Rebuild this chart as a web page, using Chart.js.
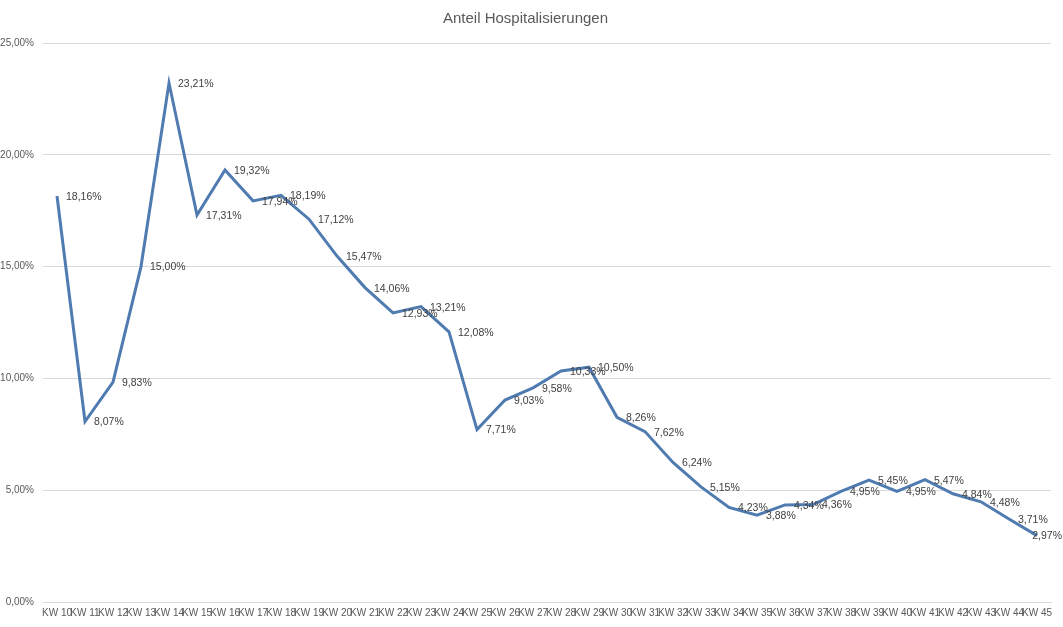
<!DOCTYPE html>
<html>
<head>
<meta charset="utf-8">
<script src="https://cdn.jsdelivr.net/npm/chart.js@4"></script>
<style>
  html, body { margin: 0; padding: 0; background: #fff; }
  #wrap { width: 1063px; height: 627px; }
</style>
</head>
<body>
<div id="wrap"><canvas id="hospChart" width="1063" height="627"></canvas></div>
<script>
const weeks = ['KW 10', 'KW 11', 'KW 12', 'KW 13', 'KW 14', 'KW 15', 'KW 16', 'KW 17', 'KW 18',
    'KW 19', 'KW 20', 'KW 21', 'KW 22', 'KW 23', 'KW 24', 'KW 25', 'KW 26', 'KW 27', 'KW 28',
    'KW 29', 'KW 30', 'KW 31', 'KW 32', 'KW 33', 'KW 34', 'KW 35', 'KW 36', 'KW 37', 'KW 38',
    'KW 39', 'KW 40', 'KW 41', 'KW 42', 'KW 43', 'KW 44', 'KW 45'];

const anteil = [18.16, 8.07, 9.83, 15.00, 23.21, 17.31, 19.32, 17.94, 18.19,
    17.12, 15.47, 14.06, 12.93, 13.21, 12.08, 7.71, 9.03, 9.58, 10.33,
    10.50, 8.26, 7.62, 6.24, 5.15, 4.23, 3.88, 4.34, 4.36, 4.95,
    5.45, 4.95, 5.47, 4.84, 4.48, 3.71, 2.97];

const yTicks = [0, 5, 10, 15, 20, 25];

const fmt = v => v.toFixed(2).replace('.', ',') + '%';
const FONT = "'Liberation Sans', sans-serif";

// value labels to the right of each point, pushed back in at the right edge
const pointLabels = {
    id: 'pointLabels',
    afterDatasetsDraw(chart) {
        const ctx = chart.ctx;
        const meta = chart.getDatasetMeta(0);
        ctx.save();
        ctx.font = '10.5px ' + FONT;
        ctx.fillStyle = '#404040';
        ctx.textAlign = 'left';
        ctx.textBaseline = 'middle';
        meta.data.forEach((pt, i) => {
            const txt = fmt(anteil[i]);
            const w = ctx.measureText(txt).width;
            const x = Math.min(pt.x + 9, chart.width - w - 1);
            ctx.fillText(txt, x, pt.y + 1);
        });
        ctx.restore();
    }
};

new Chart(document.getElementById('hospChart'), {
    type: 'line',
    data: {
        labels: weeks,
        datasets: [{
            data: anteil,
            borderColor: '#4f7bb0',
            borderWidth: 3,
            pointRadius: 0,
            tension: 0,
            fill: false
        }]
    },
    options: {
        responsive: false,
        animation: false,
        layout: { padding: { left: 0, right: 12, top: 0, bottom: 3 } },
        plugins: {
            legend: { display: false },
            tooltip: { enabled: false },
            title: {
                display: true,
                text: 'Anteil Hospitalisierungen',
                color: '#595959',
                font: { family: FONT, size: 15, weight: 'normal' },
                padding: { top: 10, bottom: 15 }
            }
        },
        scales: {
            x: {
                offset: true,
                grid: { display: false, drawTicks: false },
                border: { color: '#d9d9d9' },
                ticks: {
                    autoSkip: false,
                    maxRotation: 0,
                    minRotation: 0,
                    padding: 5,
                    color: '#595959',
                    font: { family: FONT, size: 10 }
                }
            },
            y: {
                min: 0,
                max: 25,
                afterFit: s => { s.width = 43; },
                afterBuildTicks: s => { s.ticks = yTicks.map(v => ({ value: v })); },
                grid: { color: '#d9d9d9', drawTicks: false },
                border: { display: false },
                ticks: {
                    padding: 9,
                    color: '#595959',
                    font: { family: FONT, size: 10 },
                    callback: v => fmt(v)
                }
            }
        }
    },
    plugins: [pointLabels]
});
</script>
</body>
</html>
